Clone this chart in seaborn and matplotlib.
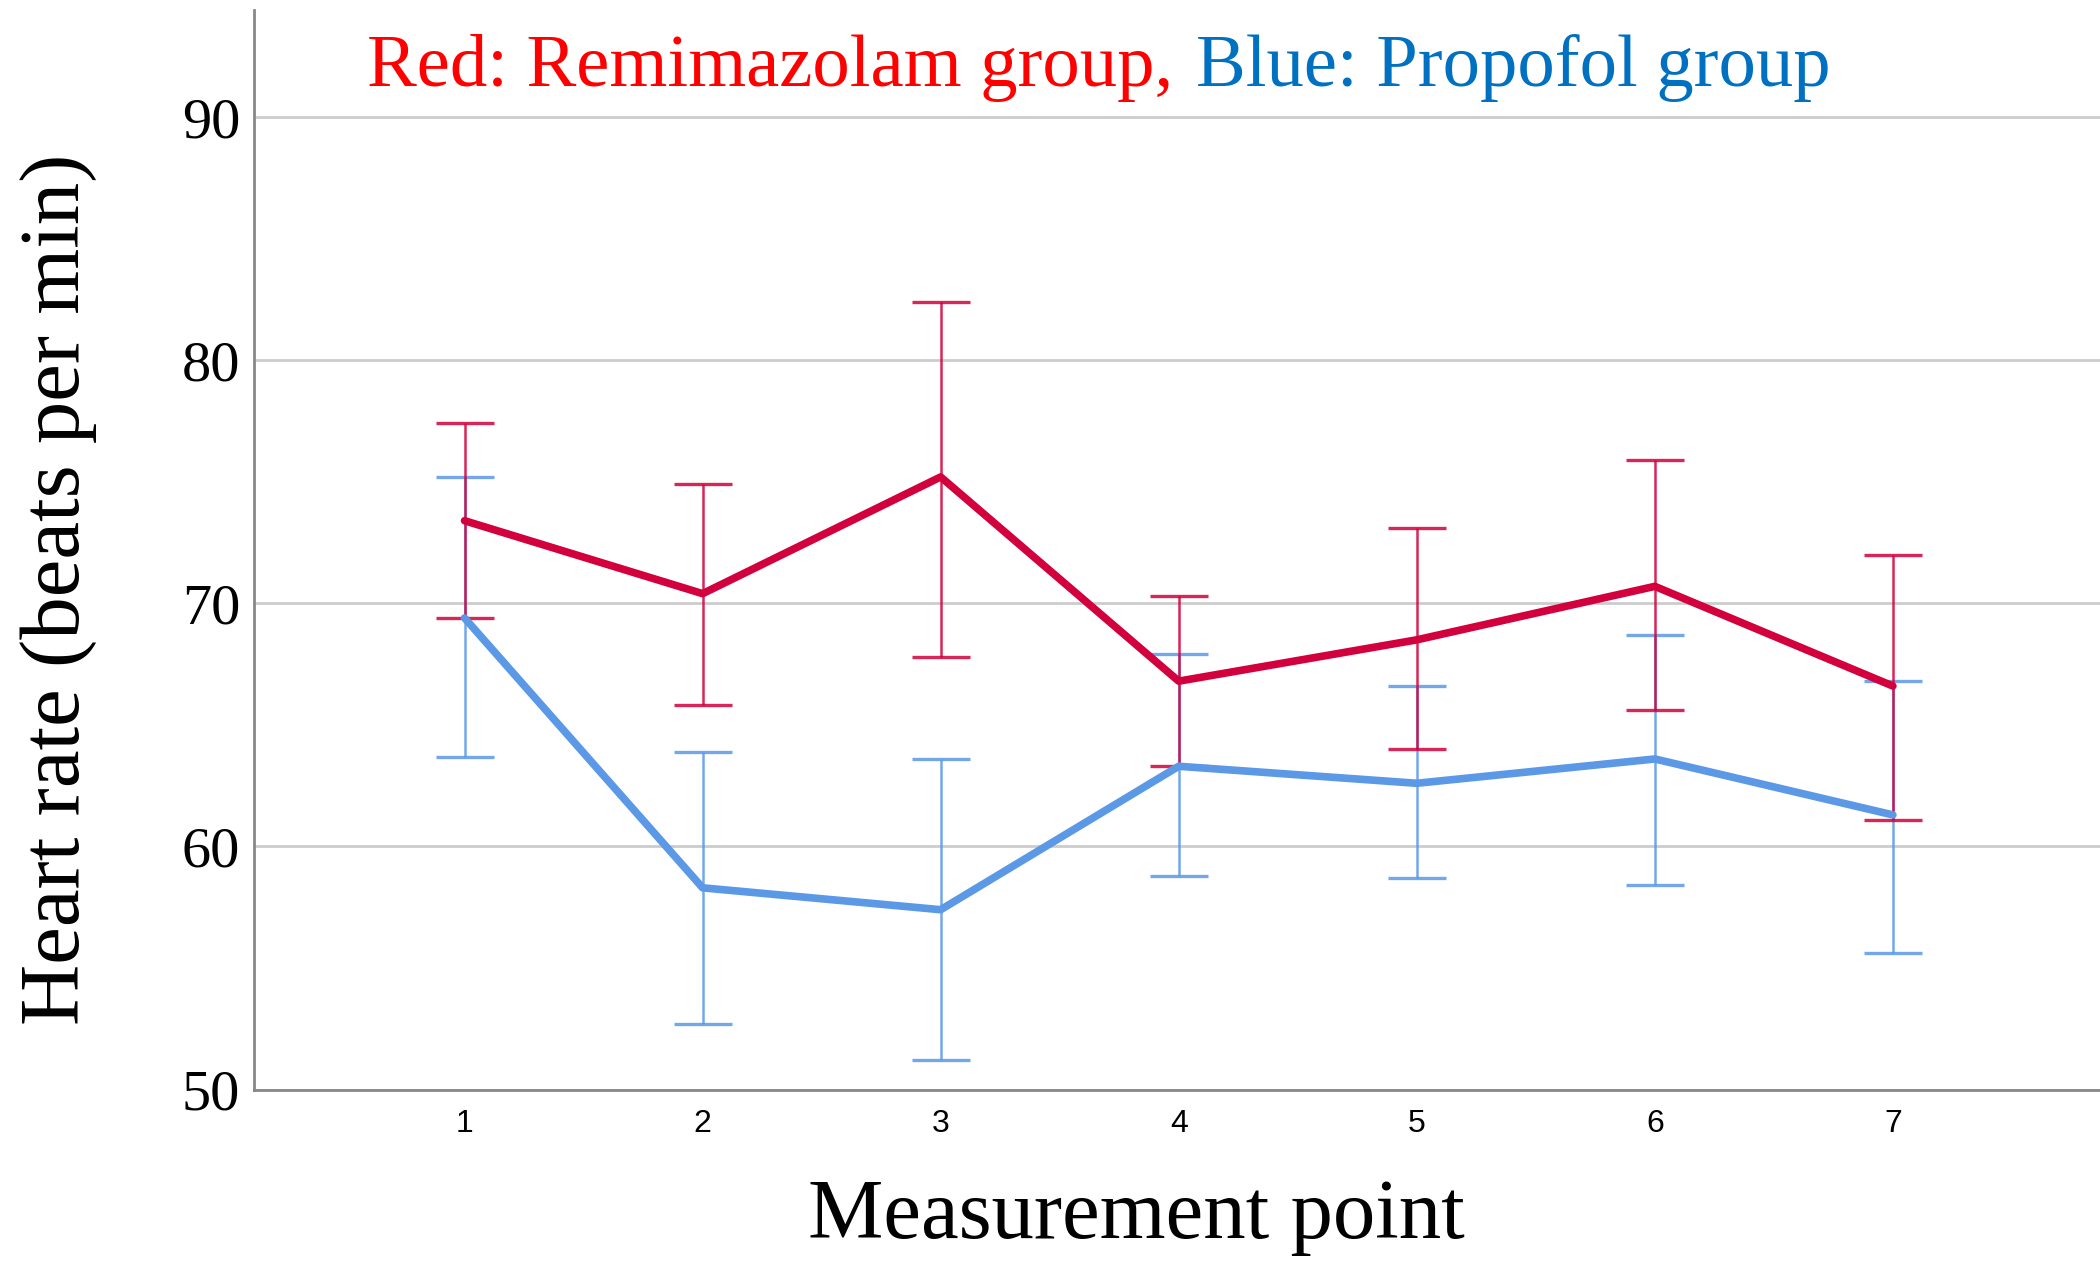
import numpy as np
import pandas as pd
import seaborn as sns
import matplotlib.pyplot as plt

points = [1, 2, 3, 4, 5, 6, 7]

# Remimazolam group: mean and 95% CI bounds
remi_mean = [73.4, 70.4, 75.2, 66.8, 68.5, 70.7, 66.6]
remi_upper = [77.4, 74.9, 82.4, 70.3, 73.1, 75.9, 72.0]
remi_lower = [69.4, 65.8, 67.8, 63.3, 64.0, 65.6, 61.1]

# Propofol group
prop_mean = [69.4, 58.3, 57.4, 63.3, 62.6, 63.6, 61.3]
prop_upper = [75.2, 63.9, 63.6, 67.9, 66.6, 68.7, 66.8]
prop_lower = [63.7, 52.7, 51.2, 58.8, 58.7, 58.4, 55.6]

y_ticks = [50, 60, 70, 80, 90]

red = "#D2003C"
blue = "#5B98E6"

df = pd.DataFrame({
    "point": points * 2,
    "hr": remi_mean + prop_mean,
    "group": ["Remimazolam"] * 7 + ["Propofol"] * 7,
})

sns.set_style("white")
plt.rcParams["font.family"] = ["Liberation Serif", "DejaVu Serif"]
plt.rcParams["text.color"] = "black"
plt.rcParams["xtick.color"] = "black"
plt.rcParams["ytick.color"] = "black"

fig = plt.figure(figsize=(21, 12.67), dpi=100)
ax = fig.add_axes([0.121, 0.140, 0.879, 0.852])

for y in y_ticks:
    ax.axhline(y, color="#cccccc", lw=2, zorder=0)

# error bars (CI)
for mean, lo, hi, c in [(prop_mean, prop_lower, prop_upper, blue),
                        (remi_mean, remi_lower, remi_upper, red)]:
    mean = np.array(mean)
    yerr = [mean - np.array(lo), np.array(hi) - mean]
    ax.errorbar(points, mean, yerr=yerr, fmt="none", ecolor=c, elinewidth=1.8,
                capsize=21, capthick=2.4, alpha=0.85, zorder=2)

sns.lineplot(data=df, x="point", y="hr", hue="group",
             hue_order=["Propofol", "Remimazolam"],
             palette={"Remimazolam": red, "Propofol": blue},
             linewidth=5.5, legend=False, ax=ax, zorder=3)

ax.set_xlim(0.116, 7.87)
ax.set_ylim(50, 94.4)
ax.set_xticks(points)
ax.set_xticklabels([str(p) for p in points], fontsize=23, family="Liberation Sans")
ax.set_yticks(y_ticks)
ax.set_yticklabels([str(y) for y in y_ticks], fontsize=42)
ax.tick_params(axis="both", length=0)
ax.tick_params(axis="x", pad=14)
ax.tick_params(axis="y", pad=10)
ax.set_xlabel("")
ax.set_ylabel("")

for s in ["top", "right"]:
    ax.spines[s].set_visible(False)
for s in ["left", "bottom"]:
    ax.spines[s].set_color("#888888")
    ax.spines[s].set_linewidth(2)

fig.text(0.5586, 0.946, "Red: Remimazolam group,", color="#FF0000",
         fontsize=53.7, ha="right", va="center")
fig.text(0.5695, 0.946, "Blue: Propofol group", color="#0070C0",
         fontsize=53.7, ha="left", va="center")

fig.text(0.028, 0.535, "Heart rate (beats per min)", rotation=90,
         fontsize=61, ha="center", va="center")
fig.text(0.541, 0.039, "Measurement point", fontsize=61,
         ha="center", va="center")

fig.savefig("out.png", dpi=100)
